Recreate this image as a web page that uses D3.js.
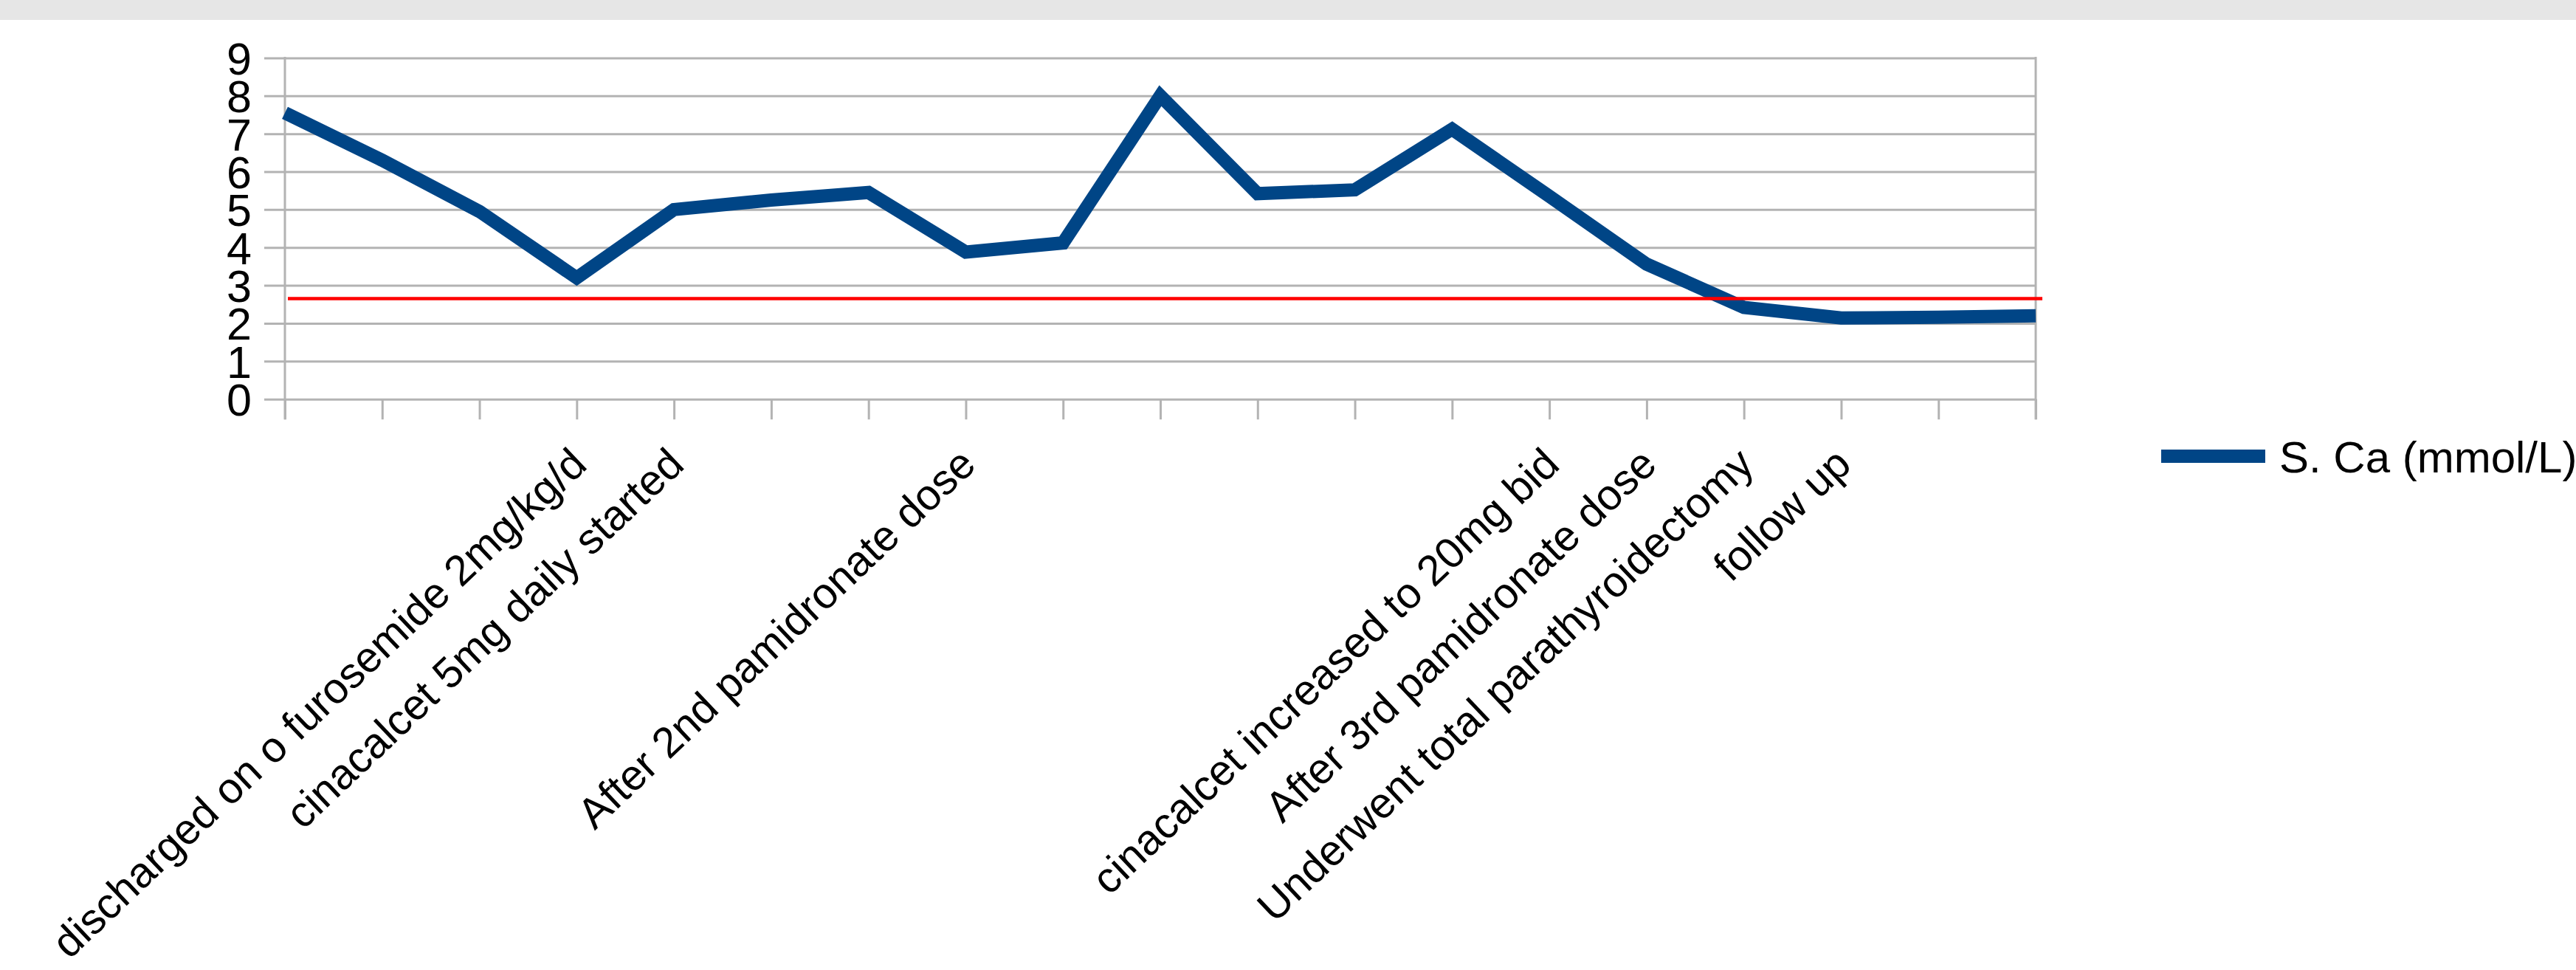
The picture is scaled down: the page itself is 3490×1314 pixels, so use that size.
<!DOCTYPE html>
<html>
<head>
<meta charset="utf-8">
<script src="https://cdn.jsdelivr.net/npm/d3@7"></script>
<style>
  html, body { margin: 0; padding: 0; background: #ffffff; }
  svg { display: block; }
  text { font-family: "Liberation Sans", Arial, sans-serif; fill: #000; }
</style>
</head>
<body>
<svg id="chart" width="3490" height="1314"></svg>
<script>
// ---- data ----
const categories = [
  "", "", "",
  "discharged on o furosemide 2mg/kg/d",
  "cinacalcet 5mg daily started",
  "", "",
  "After 2nd pamidronate dose",
  "", "", "", "", "",
  "cinacalcet increased to 20mg bid",
  "After 3rd pamidronate dose",
  "Underwent total parathyroidectomy",
  "follow up",
  "", ""
];
const calcium = [7.55, 6.3, 4.95, 3.2, 5.0, 5.25, 5.45, 3.88, 4.12, 8.0, 5.42, 5.52, 7.12, 5.35, 3.56, 2.42, 2.14, 2.16, 2.2];
const referenceLimit = 2.65;
const yTicks = [0, 1, 2, 3, 4, 5, 6, 7, 8, 9];
const seriesName = "S. Ca (mmol/L)";

// ---- layout ----
const svg = d3.select("#chart");
const W = 3490, H = 1314;
const plotLeft = 386, plotRight = 2758, plotTop = 78.4, plotBottom = 540.7;
const gridColor = "#b3b3b3";
const lineColor = "#004586";

svg.append("rect").attr("x", 0).attr("y", 0).attr("width", W).attr("height", 27).attr("fill", "#e6e6e6");

const x = d3.scalePoint().domain(d3.range(categories.length)).range([plotLeft, plotRight]);
const y = d3.scaleLinear().domain([0, 9]).range([plotBottom, plotTop]);

// gridlines (extend left beyond axis like ticks)
const grid = svg.append("g").attr("transform", `translate(${plotLeft - 28},0)`)
  .call(d3.axisLeft(y).tickValues(yTicks).tickSize(-(plotRight - plotLeft + 28)).tickFormat(""));
grid.select(".domain").remove();
grid.selectAll("line").attr("stroke", gridColor).attr("stroke-width", 3);

// y labels
const yAxis = svg.append("g").attr("transform", `translate(${plotLeft},0)`)
  .call(d3.axisLeft(y).tickValues(yTicks).tickSize(0).tickPadding(45).tickFormat(d3.format("d")));
yAxis.select(".domain").remove();
yAxis.selectAll("text").attr("font-size", 61).attr("dy", "0.36em").style("fill", "#000");

// x axis ticks + labels
const xAxis = svg.append("g").attr("transform", `translate(0,${plotBottom})`)
  .call(d3.axisBottom(x).tickSize(27.5).tickFormat(i => categories[i]));
xAxis.select(".domain").remove();
xAxis.selectAll("line").attr("stroke", gridColor).attr("stroke-width", 3);
xAxis.selectAll("text")
  .attr("x", 0).attr("y", 0).attr("dy", 0)
  .attr("font-size", 58)
  .attr("text-anchor", "end")
  .attr("transform", "translate(16,92) rotate(-43.5)")
  .style("fill", "#000");

// vertical frame lines (left & right)
[plotLeft, plotRight].forEach(px => {
  svg.append("line")
    .attr("x1", px).attr("x2", px)
    .attr("y1", y(9) - 1.5).attr("y2", plotBottom + 27.5)
    .attr("stroke", gridColor).attr("stroke-width", 3);
});

// data line
const line = d3.line().x((d, i) => x(i)).y(d => y(d));
svg.append("path")
  .datum(calcium)
  .attr("d", line)
  .attr("fill", "none")
  .attr("stroke", lineColor)
  .attr("stroke-width", 18)
  .attr("stroke-linejoin", "miter")
  .attr("stroke-linecap", "butt");

// reference line
svg.append("line")
  .attr("x1", plotLeft + 4).attr("x2", plotRight + 9)
  .attr("y1", y(referenceLimit)).attr("y2", y(referenceLimit))
  .attr("stroke", "#ff0000").attr("stroke-width", 4.5);

// legend
const legend = svg.append("g").attr("transform", "translate(2928,618)");
legend.append("line").attr("x1", 0).attr("x2", 141).attr("y1", 0).attr("y2", 0)
  .attr("stroke", lineColor).attr("stroke-width", 18);
legend.append("text").attr("x", 160).attr("y", 0).attr("dy", "0.36em")
  .attr("font-size", 60).text(seriesName);
</script>
</body>
</html>
